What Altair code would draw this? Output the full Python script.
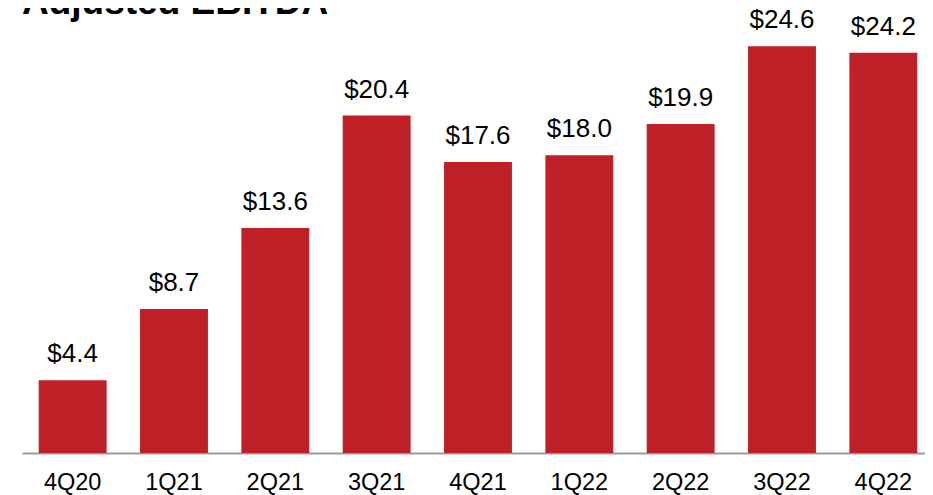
import altair as alt
import pandas as pd

quarters = ["4Q20", "1Q21", "2Q21", "3Q21", "4Q21", "1Q22", "2Q22", "3Q22", "4Q22"]
values = [4.4, 8.7, 13.6, 20.4, 17.6, 18.0, 19.9, 24.6, 24.2]
labels = ["$4.4", "$8.7", "$13.6", "$20.4", "$17.6", "$18.0", "$19.9", "$24.6", "$24.2"]
title_text = "Adjusted EBITDA"

df = pd.DataFrame({"q": quarters, "v": values, "lab": labels})
FONT = "Liberation Sans"

x = alt.X("q:N", sort=quarters, title=None,
          scale=alt.Scale(paddingInner=0.33, paddingOuter=0.165, round=False, range=[0, 912]),
          axis=alt.Axis(labelAngle=0, labelFontSize=23.5, labelFont=FONT, labelColor="#000000",
                        labelPadding=17, ticks=False, domainColor="#9a9a9a", domainWidth=2))
y = alt.Y("v:Q", scale=alt.Scale(domain=[0, 26], nice=False), axis=None)

bars = alt.Chart(df).mark_bar(color="#BF1F27").encode(x=x, y=y)
text = alt.Chart(df).mark_text(font=FONT, fontSize=26, baseline="alphabetic", dy=-18, color="#000000").encode(
    x=alt.X("q:N", sort=quarters), y="v:Q", text="lab:N")
title = alt.Chart(pd.DataFrame({"t": [title_text]})).mark_text(
    font=FONT, fontSize=37, fontWeight="bold", align="left", baseline="alphabetic", color="#000000"
).encode(x=alt.value(0), y=alt.value(-9), text="t:N")

chart = alt.layer(bars, text, title).properties(
    width=903, height=430,
    autosize=alt.AutoSizeParams(type="none"),
    padding={"left": 14, "top": 15, "right": 0, "bottom": 42},
).configure_view(stroke=None)

chart.save("out.html", embed_options={"renderer": "svg", "actions": False})
